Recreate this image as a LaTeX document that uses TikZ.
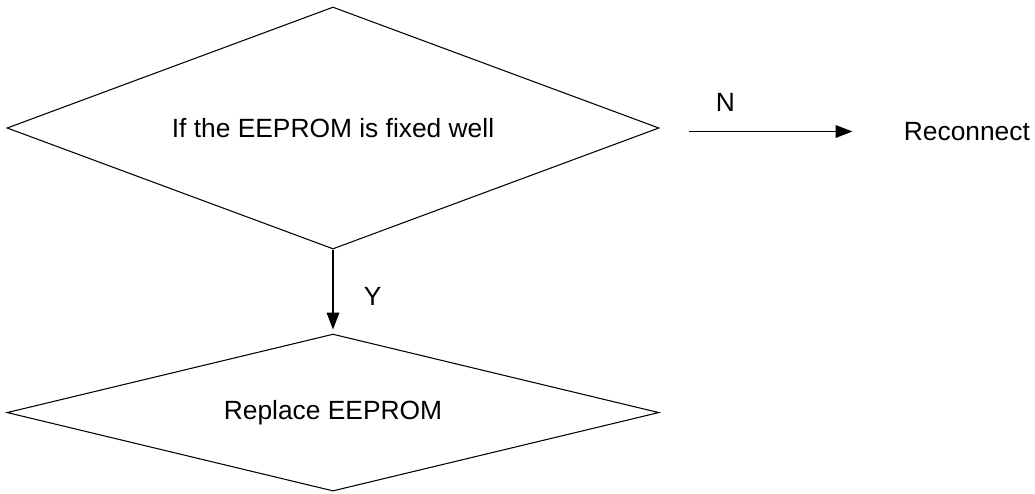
\documentclass[tikz,border=0pt]{standalone}
\usepackage{fontspec}
\setmainfont{Liberation Sans}
\usepackage{tikz}
\usetikzlibrary{shapes.geometric,arrows.meta,positioning}

\begin{document}
\begin{tikzpicture}[
  font=\fontsize{15}{18}\selectfont,
  node distance=1.68cm and 4.88cm,
  decision/.style={draw, diamond, shape aspect=3, line width=0.6pt,
                   inner sep=0pt, minimum width=13.04cm, align=center},
  plain/.style={inner sep=0pt},
  arr/.style={-{Triangle[length=0.34cm, width=0.25cm]}, line width=1.1pt},
  lbl/.style={inner sep=0pt}
]
\useasboundingbox (-6.66,2.56) rectangle (14.04,-7.30);

\node[decision, minimum height=4.84cm] (check)
  {If the EEPROM is fixed well};

\node[decision, minimum height=3.14cm, below=of check] (replace)
  {Replace EEPROM};

\node[plain, right=of check, yshift=-0.07cm] (reconnect) {Reconnect};

\draw[arr, shorten >=0.08cm] (check.south) -- (replace.north)
  node[lbl, pos=0.56, right=0.6cm] {Y};

\draw[arr, shorten <=0.58cm, shorten >=1.02cm]
  (check.east |- reconnect.west) -- (reconnect.west)
  node[lbl, pos=0.27, above=0.38cm] {N};

\end{tikzpicture}
\end{document}
